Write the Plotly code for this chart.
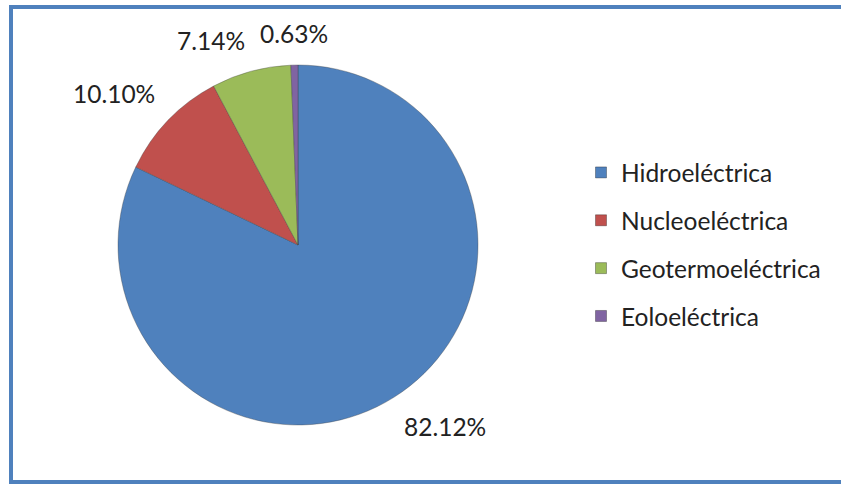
import math
import plotly.graph_objects as go

categories = ["Hidroeléctrica", "Nucleoeléctrica", "Geotermoeléctrica", "Eoloeléctrica"]
values = [82.12, 10.10, 7.14, 0.63]
colors = ["#4f81bd", "#c0504d", "#9bbb59", "#8064a2"]
labels_text = [f"{v:.2f}%" for v in values]

W, H = 841, 484
# pie placement (pixels)
CX, CY, R = 298, 245, 180
LABEL_R = 195

fig = go.Figure()
fig.add_trace(go.Pie(
    labels=categories, values=values, text=labels_text,
    textinfo="none", sort=False,
    direction="clockwise", rotation=0,
    marker=dict(colors=colors, line=dict(color="rgba(60,60,60,0.35)", width=1)),
    showlegend=False,
    domain=dict(x=[(CX - R) / W, (CX + R) / W], y=[1 - (CY + R) / H, 1 - (CY - R) / H]),
    hoverinfo="label+text",
))

# data labels placed just outside each slice's mid-angle (derived from values)
total = sum(values)
cum = 0.0
annotations = []
for v, t in zip(values, labels_text):
    mid = (cum + v / 2) / total * 2 * math.pi
    cum += v
    s, c = math.sin(mid), math.cos(mid)
    px = CX + LABEL_R * s
    py = CY - LABEL_R * c
    xa = "right" if s < -0.1 else ("left" if s > 0.1 else "center")
    ya = "bottom" if c > 0.1 else ("top" if c < -0.1 else "middle")
    annotations.append(dict(
        x=px / W, y=1 - py / H, xref="paper", yref="paper", text=t,
        showarrow=False, xanchor=xa, yanchor=ya,
        font=dict(family="Lato", size=24.5, color="#222222"),
    ))

for i, (c, col) in enumerate(zip(categories, colors)):
    fig.add_trace(go.Scatter(
        x=[None], y=[None], mode="markers", name=c,
        marker=dict(symbol="square", size=11, color=col, line=dict(color="rgba(0,0,0,0.3)", width=1)),
        legendgroup=f"g{i}", showlegend=True,
    ))

fig.update_layout(
    width=W, height=H, margin=dict(l=0, r=0, t=0, b=0),
    paper_bgcolor="white", plot_bgcolor="white",
    xaxis=dict(visible=False), yaxis=dict(visible=False),
    legend=dict(x=581 / W, y=1 - 150 / H, xanchor="left", yanchor="top",
                font=dict(family="Lato", size=24.5, color="#222222"),
                tracegroupgap=13, itemwidth=30, bgcolor="rgba(0,0,0,0)"),
    annotations=annotations,
    shapes=[dict(type="rect", xref="paper", yref="paper",
                 x0=11 / W, x1=1.02, y0=1 - 482 / H, y1=1 - 7 / H,
                 line=dict(color="#4f81bd", width=4), layer="above")],
)
fig.write_html("out.html")
